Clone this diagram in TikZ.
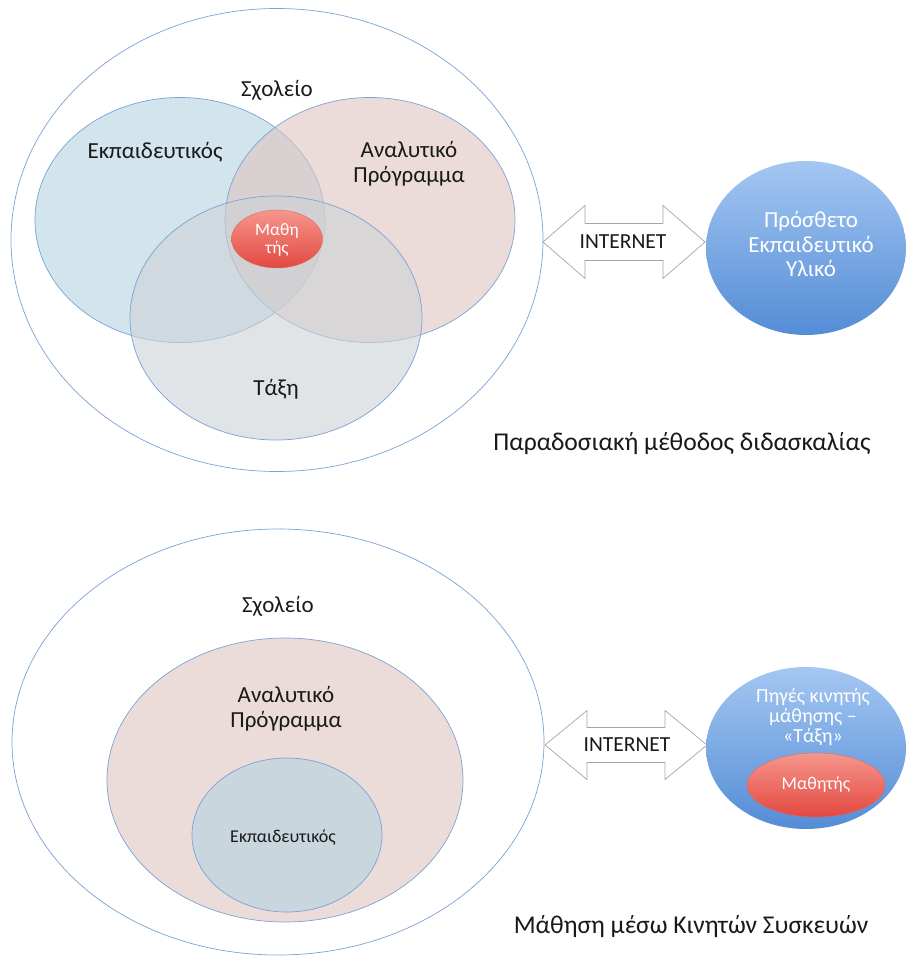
\documentclass[tikz,border=0pt]{standalone}
\usepackage{fontspec}
\setmainfont{Carlito}
\usetikzlibrary{shapes.geometric}
\definecolor{edge}{RGB}{122,162,214}
\definecolor{vblue}{RGB}{180,210,224}
\definecolor{vpink}{RGB}{223,197,192}
\definecolor{vgray}{RGB}{205,210,215}
\definecolor{redtop}{RGB}{246,150,140}
\definecolor{redbot}{RGB}{226,72,64}
\definecolor{redline}{RGB}{214,110,100}
\definecolor{bluetop}{RGB}{164,199,242}
\definecolor{bluebot}{RGB}{84,140,214}
\definecolor{arrowgray}{RGB}{165,165,165}
\definecolor{txt}{RGB}{25,25,25}
\begin{document}
\begin{tikzpicture}[x=1pt,y=-1pt,
  outer/.style={ellipse, draw=edge, line width=0.7pt, inner sep=0pt},
  venn/.style={ellipse, draw=edge, line width=0.7pt, inner sep=0pt, fill opacity=0.6},
  redball/.style={ellipse, draw=redline, line width=0.4pt, inner sep=0pt, top color=redtop, bottom color=redbot},
  blueball/.style={ellipse, inner sep=0pt, top color=bluetop, bottom color=bluebot},
  lbl/.style={font=\fontsize{23}{25}\selectfont, text=txt, align=center, inner sep=0pt},
  wlbl/.style={text=white, align=center, inner sep=0pt},
  captext/.style={font=\fontsize{25.6}{28}\selectfont, text=txt, inner sep=0pt},
  arrowline/.style={draw=arrowgray, line width=0.7pt, fill=white, line join=miter},
  nettext/.style={font=\fontsize{21.5}{24}\selectfont, text=txt, inner sep=0pt}
]
\useasboundingbox[fill=white] (0,0) rectangle (908,957);

% ---------- top diagram ----------
\node[outer, minimum width=532, minimum height=463] (school1) at (277,240) {};
\node[venn, fill=vblue, minimum width=290, minimum height=245] (teach1) at (180,220) {};
\node[venn, fill=vpink, minimum width=290, minimum height=245] (curr1) at (370,220) {};
\node[venn, fill=vgray, minimum width=292, minimum height=244] (class1) at (276,318) {};
\node[redball, minimum width=91, minimum height=58] (stud1) at (277,239) {};
\node[wlbl, font=\fontsize{17.5}{18}\selectfont] (stud1t) at (277,240) {Μαθη\\τής};

\node[lbl] (school1t) at (277,90) {Σχολείο};
\node[lbl] (teach1t) at (155,152) {Εκπαιδευτικός};
\node[lbl] (curr1t) at (409,164) {Αναλυτικό\\Πρόγραμμα};
\node[lbl] (class1t) at (276,389) {Τάξη};

\begin{scope}[shift={(624,242)}]
  \draw[arrowline] (-81,0) -- (-39,-36.5) -- (-39,-18.5) -- (39,-18.5) -- (39,-36.5)
    -- (81,0) -- (39,36.5) -- (39,18.5) -- (-39,18.5) -- (-39,36.5) -- cycle;
\end{scope}
\node[nettext] (net1) at (623,242) {INTERNET};

\node[blueball, minimum width=200, minimum height=174] (res1) at (806,248) {};
\node[wlbl, font=\fontsize{23}{24.5}\selectfont] (res1t) at (811,244) {Πρόσθετο\\Εκπαιδευτικό\\Υλικό};

\node[captext] (cap1) at (682,444) {Παραδοσιακή μέθοδος διδασκαλίας};

% ---------- bottom diagram ----------
\node[outer, minimum width=532, minimum height=426] (school2) at (278,742) {};
\node[venn, fill=vpink, minimum width=356, minimum height=284] (curr2) at (285,780) {};
\node[venn, fill=vblue, minimum width=190, minimum height=154] (teach2) at (287,835) {};

\node[lbl] (school2t) at (278,606) {Σχολείο};
\node[lbl] (curr2t) at (286,709) {Αναλυτικό\\Πρόγραμμα};
\node[lbl, font=\fontsize{18}{21}\selectfont] (teach2t) at (283,838) {Εκπαιδευτικός};

\begin{scope}[shift={(626,745)}]
  \draw[arrowline] (-81,0) -- (-39,-34.5) -- (-39,-17.5) -- (39,-17.5) -- (39,-34.5)
    -- (81,0) -- (39,34.5) -- (39,17.5) -- (-39,17.5) -- (-39,34.5) -- cycle;
\end{scope}
\node[nettext] (net2) at (627,745) {INTERNET};

\node[blueball, minimum width=200, minimum height=162] (res2) at (806,748) {};
\node[wlbl, font=\fontsize{20}{20}\selectfont] (res2t) at (813,717) {Πηγές κινητής\\μάθησης –\\«Τάξη»};
\node[redball, minimum width=138, minimum height=64] (stud2) at (816,785) {};
\node[wlbl, font=\fontsize{18}{21}\selectfont] (stud2t) at (stud2) {Μαθητής};

\node[captext] (cap2) at (691,927) {Μάθηση μέσω Κινητών Συσκευών};
\end{tikzpicture}
\end{document}
